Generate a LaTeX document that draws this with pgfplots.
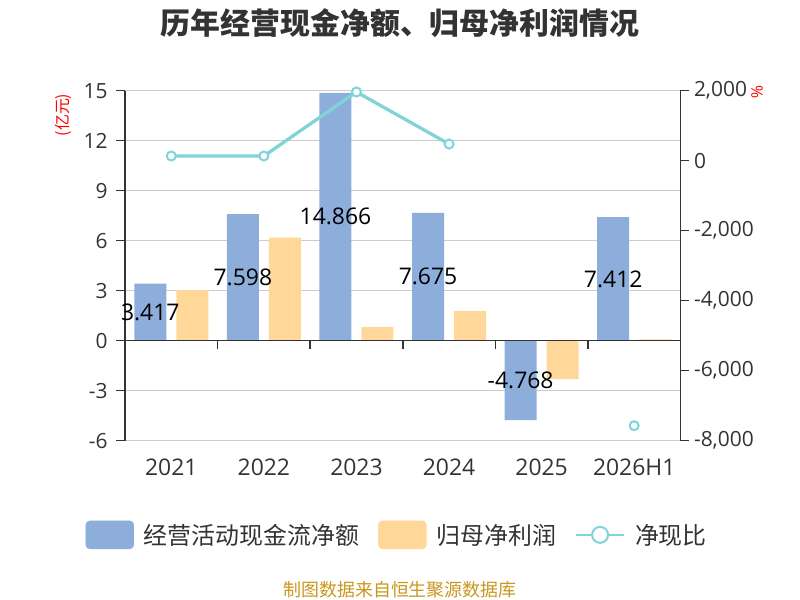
\documentclass[border=0pt]{standalone}
\usepackage{pgfplots}
\pgfplotsset{compat=1.18}
\usepackage{fontspec}
\setmainfont{Open Sans}
\newfontfamily\cjk{Noto Sans CJK SC}
\definecolor{cblue}{RGB}{141,174,219}
\definecolor{corange}{RGB}{255,216,153}
\definecolor{cline}{RGB}{128,212,216}
\definecolor{cgrid}{RGB}{204,204,204}
\definecolor{caxis}{RGB}{51,51,51}
\definecolor{cgold}{RGB}{201,150,31}
\pgfplotstableread{
x y
0 3.417
1 7.598
2 14.866
3 7.675
4 -4.768
5 7.412
}\cashflow
\pgfplotstableread{
x y
0 3.04
1 6.18
2 0.82
3 1.78
4 -2.30
5 0.08
}\netprofit
\pgfplotstableread{
x y lbl
0 1.7085 3.417
1 3.799 7.598
2 7.433 14.866
3 3.8375 7.675
4 -2.384 -4.768
5 3.706 7.412
}\labels
\pgfplotstableread{
x y
0 134
1 134
2 1963
3 477
4 nan
5 -7571
}\ratio
\begin{document}
\begin{tikzpicture}
\path[use as bounding box] (0,0) rectangle (800bp,600bp);
\node[font=\cjk\bfseries\fontsize{30}{30}\selectfont, text=caxis] at (400bp,577bp) {历年经营现金净额、归母净利润情况};
\node[font=\cjk\fontsize{16}{16}\selectfont, text=red, rotate=90] at (63bp,485bp) {(亿元)};
\node[font=\fontsize{16}{16}\selectfont, text=red, rotate=-90] at (757bp,508bp) {\%};
\node[font=\cjk\fontsize{18}{18}\selectfont, text=cgold] at (400bp,10bp) {制图数据来自恒生聚源数据库};
\begin{axis}[
  at={(125bp,159.3bp)}, anchor=south west,
  scale only axis, width=555.5bp, height=350bp,
  xmin=-0.5, xmax=5.5, ymin=-6, ymax=15,
  axis y line*=left, axis x line*=bottom,
  x axis line style={draw=none},
  y axis line style={draw=caxis, line width=1.5bp},
  xtick={0,...,5}, xticklabels={2021,2022,2023,2024,2025,2026H1},
  xtick style={draw=none},
  ytick={-6,-3,...,15},
  ytick style={draw=caxis, line width=1.5bp},
  tick align=outside, major tick length=9bp,
  ymajorgrids, grid style={draw=cgrid, line width=1.3bp},
  xticklabel style={font=\fontsize{23}{23}\selectfont, text=caxis, yshift=-6bp},
  yticklabel style={font=\fontsize{21}{21}\selectfont, text=caxis, xshift=-5bp},
  /pgf/number format/assume math mode=true,
  clip=false,
]
\addplot[ybar, bar width=32bp, bar shift=-21bp, fill=cblue, draw=none] table[x=x,y=y] {\cashflow};
\addplot[ybar, bar width=32bp, bar shift=21bp, fill=corange, draw=none] table[x=x,y=y] {\netprofit};
\addplot[draw=none, mark=none, forget plot, nodes near coords, point meta=explicit symbolic,
  nodes near coords style={anchor=center, xshift=-21bp, font=\fontsize{23}{23}\selectfont, text=black}]
  table[x=x,y=y,meta=lbl] {\labels};
\draw[caxis, line width=1.5bp] (axis cs:-0.5,0) -- (axis cs:5.5,0);
\pgfplotsinvokeforeach{-0.5,0.5,1.5,2.5,3.5,4.5,5.5}{
  \draw[caxis, line width=1.5bp] (axis cs:#1,0) -- ([yshift=-8bp]axis cs:#1,0);
}
\end{axis}
\begin{axis}[
  at={(125bp,159.3bp)}, anchor=south west,
  scale only axis, width=555.5bp, height=350bp,
  xmin=-0.5, xmax=5.5, ymin=-8000, ymax=2000,
  axis x line=none, axis y line*=right,
  y axis line style={draw=caxis, line width=1.5bp},
  ytick={-8000,-6000,...,2000},
  ytick style={draw=caxis, line width=1.5bp},
  tick align=outside, major tick length=9bp,
  yticklabel style={font=\fontsize{21}{21}\selectfont, text=caxis, xshift=1bp},
  /pgf/number format/assume math mode=true,
  /pgf/number format/1000 sep={,},
  scaled y ticks=false,
  unbounded coords=jump,
  legend columns=3,
  legend style={at={(0.49,-0.269)}, anchor=center, draw=none, fill=none,
    font=\cjk\fontsize{24}{24}\selectfont, text=caxis,
    /tikz/every even column/.append style={column sep=17bp},
    /tikz/every odd column/.append style={column sep=8bp}},
  clip=false,
]
\addlegendimage{legend image code/.code={\fill[cblue, rounded corners=4bp] (0bp,-14bp) rectangle (48bp,14bp);}}
\addlegendentry{经营活动现金流净额}
\addlegendimage{legend image code/.code={\fill[corange, rounded corners=4bp] (0bp,-14bp) rectangle (48bp,14bp);}}
\addlegendentry{归母净利润}
\addplot[cline, line width=3.3bp, mark=*, mark size=4.5bp,
  mark options={fill=white, draw=cline, line width=2bp},
  legend image code/.code={\draw[cline, line width=2bp] (0bp,0bp) -- (48bp,0bp); \draw[cline, line width=2bp, fill=white] (24bp,0bp) circle (8bp);}]
  table[x=x,y=y] {\ratio};
\addlegendentry{净现比}
\end{axis}
\end{tikzpicture}
\end{document}
